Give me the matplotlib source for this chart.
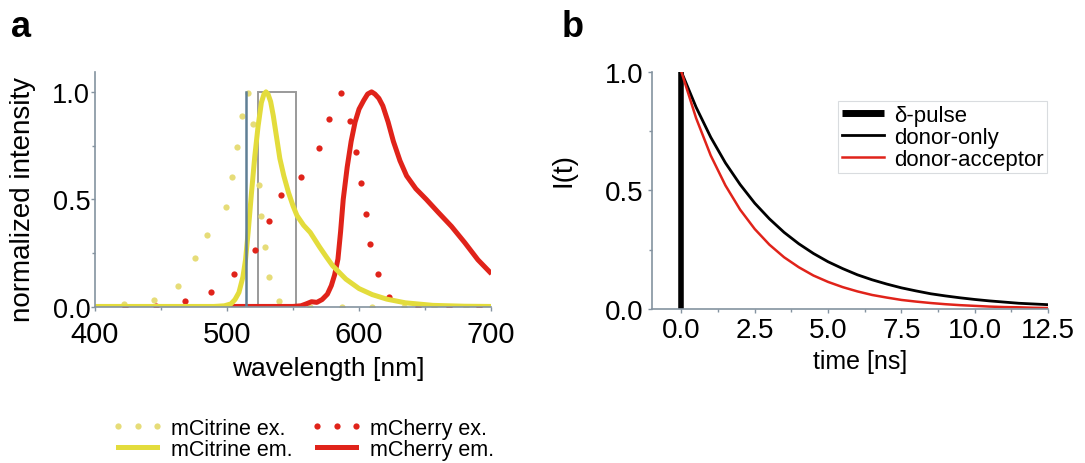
import matplotlib
matplotlib.use("Agg")
import matplotlib.pyplot as plt
from matplotlib.patches import Rectangle
from matplotlib.ticker import MultipleLocator

plt.rcParams["font.family"] = ["Liberation Sans", "DejaVu Sans"]

# ---- panel a: spectra ----
citrine_ex_wl = [422, 445, 463, 476, 485, 499, 504, 507.5, 511, 516, 520, 524.5, 526,
                 528.5, 532, 539.5, 563, 587, 610, 634, 657, 681]
citrine_ex = [0.014, 0.035, 0.099, 0.228, 0.335, 0.464, 0.603, 0.745, 0.889, 0.993, 0.852,
              0.565, 0.423, 0.279, 0.14, 0.029, 0.0, 0.0, 0.0, 0.0, 0.0, 0.0]

cherry_ex_wl = [423, 446, 468.5, 488, 505, 521, 532, 541, 556, 569.5, 577, 586, 593.5,
                598, 601.5, 605, 608.5, 614, 623, 645, 668, 691]
cherry_ex = [0.0, 0.007, 0.026, 0.072, 0.154, 0.264, 0.398, 0.519, 0.603, 0.74, 0.876,
             0.995, 0.864, 0.72, 0.577, 0.434, 0.295, 0.154, 0.046, 0.0, 0.0, 0.0]

citrine_em_wl = [400, 490, 498, 503, 506, 509, 512, 514, 516, 518.5, 521, 523.5, 526, 528,
                 529.5, 531, 533, 535, 537.5, 540, 543, 546.5, 550, 553, 558, 563, 570,
                 575, 580, 590, 600, 610, 621, 635, 656, 680, 700]
citrine_em = [0.003, 0.003, 0.006, 0.015, 0.035, 0.068, 0.14, 0.22, 0.35, 0.53, 0.7, 0.84,
              0.95, 0.99, 1.0, 0.99, 0.955, 0.89, 0.79, 0.69, 0.61, 0.533, 0.47, 0.425,
              0.38, 0.347, 0.28, 0.235, 0.192, 0.13, 0.086, 0.058, 0.037, 0.02, 0.008,
              0.004, 0.003]

cherry_em_wl = [500, 550, 556, 560, 564, 568, 572, 576, 579, 581.5, 584, 586, 588, 591,
                594, 597, 600, 603.5, 606.5, 609.5, 612, 615, 618, 622, 626, 631, 636,
                643, 651, 660, 670, 680, 690, 699]
cherry_em = [0.003, 0.003, 0.006, 0.015, 0.025, 0.022, 0.035, 0.06, 0.1, 0.15, 0.223, 0.35,
             0.5, 0.65, 0.77, 0.86, 0.92, 0.96, 0.99, 1.0, 0.99, 0.97, 0.935, 0.86, 0.77,
             0.68, 0.61, 0.55, 0.5, 0.44, 0.375, 0.3, 0.22, 0.163]

laser_line = 514.5          # excitation line (nm)
filter_band = (523.7, 552)  # detection window (nm)

# ---- panel b: decays ----
t_ns = [0, 0.5, 1, 1.5, 2, 2.5, 3, 3.5, 4, 4.5, 5, 5.5, 6, 6.5, 7, 7.5, 8, 8.5, 9, 9.5,
        10, 10.5, 11, 11.5, 12, 12.5]
donor_only = [1.0, 0.851, 0.724, 0.616, 0.525, 0.446, 0.380, 0.323, 0.275, 0.234, 0.199,
              0.170, 0.144, 0.123, 0.105, 0.089, 0.076, 0.064, 0.055, 0.047, 0.040,
              0.034, 0.029, 0.024, 0.021, 0.018]
donor_acceptor = [1.0, 0.805, 0.647, 0.521, 0.419, 0.337, 0.271, 0.218, 0.176, 0.141,
                  0.114, 0.092, 0.074, 0.059, 0.048, 0.038, 0.031, 0.025, 0.020, 0.016,
                  0.013, 0.010, 0.008, 0.007, 0.005, 0.004]
pulse_t = [0, 0]
pulse_y = [0, 1]

YEL = "#e3dc3c"
YEL_DOT = "#e6dc78"
RED = "#e0231a"
SPINE = "#8493a0"

fig = plt.figure(figsize=(10.85, 4.64), dpi=100)
ax_a = fig.add_axes([0.0876, 0.336, 0.365, 0.507])
ax_b = fig.add_axes([0.601, 0.332, 0.365, 0.511])

for ax in (ax_a, ax_b):
    for s in ("top", "right"):
        ax.spines[s].set_visible(False)
    for s in ("left", "bottom"):
        ax.spines[s].set_color(SPINE)
        ax.spines[s].set_linewidth(1.2)
    ax.tick_params(which="major", direction="out", length=3, width=1, color=SPINE,
                   labelsize=21, pad=3)
    ax.tick_params(which="minor", direction="out", length=2, width=1, color=SPINE)
ax_a.tick_params(axis="y", which="major", pad=0.5, labelsize=19.5)
ax_a.tick_params(axis="x", which="major", pad=6)
ax_b.tick_params(which="major", labelsize=20)

# panel a
ax_a.plot(citrine_ex_wl, citrine_ex, "o", ms=4.5, color=YEL_DOT, mec="none",
          label="mCitrine ex.")
ax_a.plot(cherry_ex_wl, cherry_ex, "o", ms=4.5, color=RED, mec="none", label="mCherry ex.")
ax_a.plot(cherry_em_wl, cherry_em, color=RED, lw=3.6, label="mCherry em.")
ax_a.plot(citrine_em_wl, citrine_em, color=YEL, lw=3.6, label="mCitrine em.")
ax_a.plot([laser_line, laser_line], [0, 1], color="#5f7f95", lw=1.8)
ax_a.add_patch(Rectangle((filter_band[0], 0), filter_band[1] - filter_band[0], 1,
                         fill=False, ec="#9a9a9a", lw=1.4))
ax_a.set_xlim(400, 700)
ax_a.set_ylim(0, 1.093)
ax_a.xaxis.set_major_locator(MultipleLocator(100))
ax_a.xaxis.set_minor_locator(MultipleLocator(50))
ax_a.yaxis.set_major_locator(MultipleLocator(0.5))
ax_a.yaxis.set_minor_locator(MultipleLocator(0.25))
ax_a.set_xlabel("wavelength [nm]", fontsize=19)
ax_a.xaxis.set_label_coords(0.59, -0.21)
ax_a.set_ylabel("normalized intensity", fontsize=20)
ax_a.yaxis.set_label_coords(-0.15, 0.46)

h = {l.get_label(): l for l in ax_a.get_lines()}
fig.legend([h["mCitrine ex."], h["mCitrine em."], h["mCherry ex."], h["mCherry em."]],
           ["mCitrine ex.", "mCitrine em.", "mCherry ex.", "mCherry em."],
           ncol=2, loc="upper left", bbox_to_anchor=(0.103, 0.097), frameon=False,
           fontsize=15.5, numpoints=3, handlelength=2.4, handletextpad=0.35,
           columnspacing=0.85, labelspacing=0.0, borderpad=0, borderaxespad=0)

# panel b
ax_b.plot(pulse_t, pulse_y, color="black", lw=4, solid_capstyle="butt", label="δ-pulse")
ax_b.plot(t_ns, donor_only, color="black", lw=2, label="donor-only")
ax_b.plot(t_ns, donor_acceptor, color=RED, lw=1.8, label="donor-acceptor")
ax_b.set_xlim(-1.0, 12.5)
ax_b.set_ylim(0, 1.0)
ax_b.xaxis.set_major_locator(MultipleLocator(2.5))
ax_b.xaxis.set_minor_locator(MultipleLocator(1.25))
ax_b.yaxis.set_major_locator(MultipleLocator(0.5))
ax_b.yaxis.set_minor_locator(MultipleLocator(0.25))
ax_b.set_xlabel("time [ns]", fontsize=18)
ax_b.xaxis.set_label_coords(0.525, -0.17)
ax_b.set_ylabel("I(t)", fontsize=20)
ax_b.yaxis.set_label_coords(-0.19, 0.59)
leg = ax_b.legend(loc="upper left", bbox_to_anchor=(0.47, 0.875), fontsize=16,
                  handlelength=1.9, handletextpad=0.45, labelspacing=0.05,
                  borderpad=0.15, borderaxespad=0, fancybox=False)
leg.get_frame().set_edgecolor("#d0d4d8")
leg.get_frame().set_linewidth(0.8)
leg.get_lines()[0].set_linewidth(5)

fig.text(0.01, 0.92, "a", fontsize=26, fontweight="bold", va="baseline")
fig.text(0.518, 0.92, "b", fontsize=26, fontweight="bold", va="baseline")

fig.savefig("out.png", dpi=100, facecolor="white")
